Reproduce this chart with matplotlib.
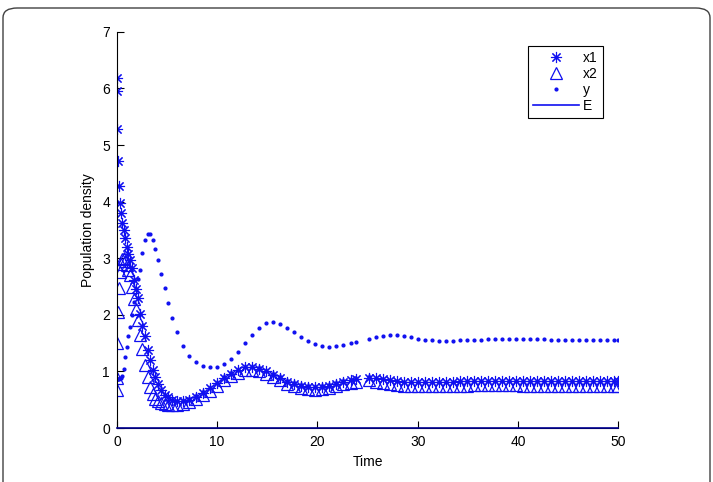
import matplotlib
matplotlib.use("Agg")
import matplotlib.pyplot as plt
from matplotlib.patches import FancyBboxPatch

# solver output (gap between 23.8 and 25.1)
t = [0.00, 0.02, 0.05, 0.10, 0.20, 0.30, 0.40, 0.55, 0.70, 0.85,
     1.00, 1.15, 1.30, 1.50, 1.70, 1.90, 2.10, 2.30, 2.55, 2.80,
     3.05, 3.30, 3.55, 3.80, 4.10, 4.40, 4.75, 5.10, 5.50, 6.00,
     6.60, 7.20, 7.90, 8.60, 9.30, 10.0, 10.7, 11.4, 12.1, 12.8,
     13.5, 14.2, 14.9, 15.6, 16.3, 17.0, 17.7, 18.4, 19.1, 19.8,
     20.5, 21.2, 21.9, 22.6, 23.3, 23.8,
     25.1, 25.8, 26.5, 27.2, 27.9, 28.6, 29.3, 30.0, 30.7, 31.4,
     32.1, 32.8, 33.5, 34.2, 34.9, 35.6, 36.3, 37.0, 37.7, 38.4,
     39.1, 39.8, 40.5, 41.2, 41.9, 42.6, 43.3, 44.0, 44.7, 45.4,
     46.1, 46.8, 47.5, 48.2, 48.9, 49.6, 50.0]

x1 = [6.18, 5.95, 5.28, 4.71, 4.28, 3.97, 3.79, 3.63, 3.50, 3.36,
      3.20, 3.08, 2.96, 2.82, 2.61, 2.45, 2.30, 2.02, 1.80, 1.62,
      1.38, 1.20, 1.03, 0.90, 0.77, 0.67, 0.59, 0.54, 0.50, 0.48,
      0.48, 0.50, 0.55, 0.62, 0.70, 0.79, 0.88, 0.96, 1.03, 1.07,
      1.08, 1.05, 1.00, 0.94, 0.88, 0.82, 0.78, 0.74, 0.72, 0.72,
      0.73, 0.75, 0.78, 0.81, 0.84, 0.86,
      0.89, 0.88, 0.86, 0.84, 0.83, 0.82, 0.81, 0.81, 0.81, 0.81,
      0.82, 0.82, 0.82, 0.83, 0.83, 0.83, 0.83, 0.83, 0.83, 0.83,
      0.83, 0.83, 0.83, 0.83, 0.83, 0.83, 0.83, 0.83, 0.83, 0.83,
      0.83, 0.83, 0.83, 0.83, 0.83, 0.83, 0.83]

x2 = [0.67, 0.88, 1.50, 2.05, 2.47, 2.76, 2.90, 2.98, 3.00, 2.95,
      2.88, 2.80, 2.70, 2.50, 2.28, 2.10, 1.90, 1.64, 1.40, 1.12,
      0.90, 0.72, 0.60, 0.52, 0.47, 0.44, 0.42, 0.41, 0.41, 0.41,
      0.43, 0.46, 0.51, 0.58, 0.66, 0.75, 0.84, 0.92, 0.98, 1.02,
      1.03, 1.01, 0.96, 0.90, 0.84, 0.78, 0.74, 0.71, 0.69, 0.68,
      0.69, 0.71, 0.74, 0.77, 0.80, 0.82,
      0.84, 0.82, 0.80, 0.78, 0.76, 0.75, 0.74, 0.74, 0.74, 0.74,
      0.74, 0.75, 0.75, 0.75, 0.75, 0.76, 0.76, 0.76, 0.76, 0.76,
      0.76, 0.76, 0.75, 0.75, 0.75, 0.75, 0.75, 0.75, 0.75, 0.75,
      0.75, 0.75, 0.75, 0.75, 0.75, 0.75, 0.75]

y = [0.87, 0.87, 0.87, 0.87, 0.87, 0.88, 0.88, 0.92, 1.05, 1.25,
     1.44, 1.62, 1.79, 2.00, 2.22, 2.45, 2.63, 2.80, 3.10, 3.33,
     3.43, 3.42, 3.33, 3.17, 2.96, 2.72, 2.47, 2.21, 1.95, 1.69,
     1.45, 1.28, 1.16, 1.09, 1.07, 1.08, 1.13, 1.22, 1.35, 1.50,
     1.65, 1.77, 1.85, 1.87, 1.84, 1.77, 1.69, 1.61, 1.54, 1.48,
     1.45, 1.44, 1.45, 1.47, 1.50, 1.52,
     1.57, 1.60, 1.63, 1.64, 1.64, 1.62, 1.60, 1.58, 1.56, 1.55,
     1.54, 1.54, 1.54, 1.55, 1.55, 1.56, 1.56, 1.57, 1.57, 1.58,
     1.58, 1.58, 1.58, 1.57, 1.57, 1.57, 1.56, 1.56, 1.56, 1.56,
     1.56, 1.56, 1.56, 1.56, 1.56, 1.56, 1.56]

E = [0.0 for v in t]

plt.rcParams['font.family'] = ['Liberation Sans', 'DejaVu Sans']

fig = plt.figure(figsize=(7.13, 4.82), dpi=100)
ax = fig.add_axes([0.164, 0.112, 0.703, 0.822])

blue = '#1010f0'
ax.plot(t, x1, linestyle='none', marker=(8, 2, 0), markersize=8, markeredgewidth=0.8,
        color=blue, label='x1')
ax.plot(t, x2, linestyle='none', marker='^', markersize=9, markerfacecolor='none',
        markeredgewidth=0.9, color=blue, label='x2')
ax.plot(t, y, linestyle='none', marker='.', markersize=4, color=blue, label='y')
ax.plot(t, E, '-', color='#000090', linewidth=1.2, label='E', clip_on=False, zorder=5)

ax.set_xlim(0, 50)
ax.set_ylim(0, 7)
ax.set_xticks([0, 10, 20, 30, 40, 50])
ax.set_yticks(range(8))
ax.spines['top'].set_visible(False)
ax.spines['right'].set_visible(False)
ax.spines['left'].set_linewidth(0.8)
ax.spines['bottom'].set_linewidth(0.8)
ax.tick_params(direction='in', length=5, width=0.8, labelsize=10, pad=5)
ax.set_xlabel('Time', fontsize=10, labelpad=4)
ax.set_ylabel('Population density', fontsize=10, labelpad=5)

leg = ax.legend(loc='upper right', bbox_to_anchor=(610 / 713, 1 - 39 / 482),
                bbox_transform=fig.transFigure, fontsize=10, handlelength=3.3,
                handletextpad=0.3, borderpad=0.35, labelspacing=0.15,
                fancybox=False, framealpha=1)
leg.get_frame().set_edgecolor('black')
leg.get_frame().set_linewidth(0.8)
for lh in leg.legend_handles:
    lh.set_color('#1010f0')

# rounded frame around the figure (open at bottom)
frame = FancyBboxPatch((3 / 713, -0.2), 707 / 713, 1.2 - 8 / 482,
                       boxstyle='round,pad=0,rounding_size=0.02',
                       transform=fig.transFigure, facecolor='none',
                       edgecolor='#404040', linewidth=1.0, clip_on=False)
fig.patches.append(frame)

fig.savefig('out.png', dpi=100)
